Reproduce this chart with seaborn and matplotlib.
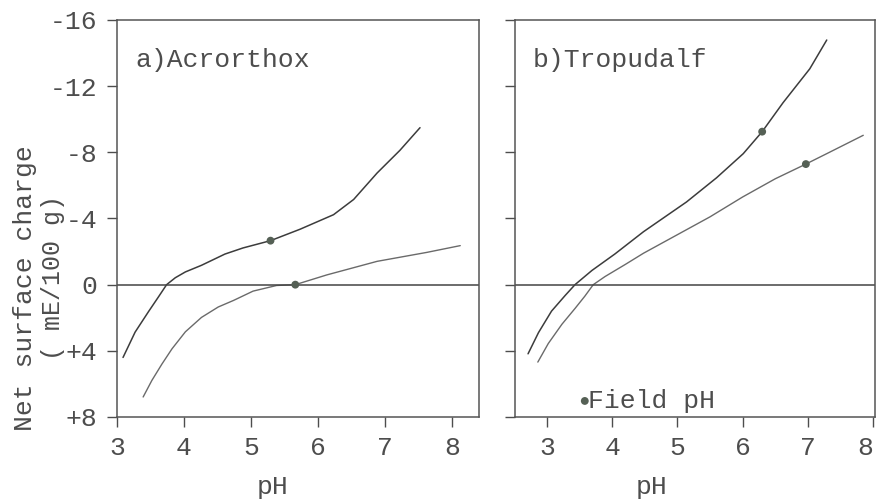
import numpy as np
import matplotlib
matplotlib.use("Agg")
import matplotlib.pyplot as plt
import pandas as pd
import seaborn as sns

# a) Acrorthox, two titration curves (pH vs net surface charge, mE/100 g)
ph_a_upper = [3.09, 3.27, 3.47, 3.62, 3.74, 3.87, 4.02, 4.26, 4.61, 4.88, 5.29, 5.73, 6.23, 6.53, 6.88, 7.22, 7.52]
q_a_upper = [4.4, 2.87, 1.63, 0.73, 0.0, -0.42, -0.77, -1.17, -1.85, -2.22, -2.66, -3.35, -4.23, -5.15, -6.75, -8.12, -9.49]
ph_a_lower = [3.39, 3.52, 3.67, 3.82, 4.02, 4.26, 4.51, 4.74, 5.03, 5.38, 5.66, 6.13, 6.88, 7.62, 8.12]
q_a_lower = [6.79, 5.79, 4.80, 3.88, 2.85, 1.98, 1.35, 0.95, 0.39, 0.05, 0.0, -0.59, -1.41, -1.95, -2.36]

# b) Tropudalf
ph_b_upper = [2.71, 2.87, 3.07, 3.28, 3.43, 3.69, 4.04, 4.48, 5.14, 5.60, 6.01, 6.30, 6.62, 7.03, 7.29]
q_b_upper = [4.18, 2.9, 1.6, 0.65, 0.0, -0.86, -1.85, -3.2, -5.0, -6.46, -7.92, -9.25, -11.0, -13.05, -14.79]
ph_b_lower = [2.86, 3.02, 3.23, 3.43, 3.58, 3.71, 3.89, 4.20, 4.48, 4.99, 5.50, 6.00, 6.50, 6.97, 7.29, 7.85]
q_b_lower = [4.68, 3.56, 2.39, 1.44, 0.70, 0.0, -0.49, -1.22, -1.9, -3.0, -4.1, -5.3, -6.4, -7.29, -7.92, -9.03]

# field pH points
field_a_ph = [5.29, 5.66]
field_a_q = [-2.66, 0.0]
field_b_ph = [6.30, 6.97]
field_b_q = [-9.25, -7.29]
legend_ph = [3.58]
legend_q = [7.03]

y_ticks = [-16, -12, -8, -4, 0, 4, 8]
y_labels = ["-16", "-12", "-8", "-4", "0", "+4", "+8"]
x_ticks = [3, 4, 5, 6, 7, 8]

sns.set_style("ticks")
plt.rcParams["font.family"] = ["Liberation Mono", "DejaVu Sans Mono"]
ink = "#4d4d4d"
plt.rcParams.update({"text.color": ink, "axes.labelcolor": ink,
                     "xtick.color": ink, "ytick.color": ink,
                     "axes.edgecolor": "#555555"})

fig = plt.figure(figsize=(8.78, 5.0), dpi=100)
ax1 = fig.add_axes([117 / 878, 1 - 417 / 500, 362 / 878, 397 / 500])
ax2 = fig.add_axes([515 / 878, 1 - 417 / 500, 360 / 878, 397 / 500])

dark = "#3c3c3c"
light = "#6a6a6a"
fs = 19

panels = [
    (ax1, ph_a_upper, q_a_upper, ph_a_lower, q_a_lower, field_a_ph, field_a_q, (3.0, 8.4), "a)Acrorthox"),
    (ax2, ph_b_upper, q_b_upper, ph_b_lower, q_b_lower, field_b_ph, field_b_q, (2.51, 8.03), "b)Tropudalf"),
]

for ax, xu, yu, xl, yl, fx, fy, xlim, title in panels:
    up = pd.DataFrame({"pH": xu, "q": yu})
    lo = pd.DataFrame({"pH": xl, "q": yl})
    sns.lineplot(data=up, x="pH", y="q", ax=ax, sort=False, color=dark, lw=1.1)
    sns.lineplot(data=lo, x="pH", y="q", ax=ax, sort=False, color=light, lw=1.0)
    sns.scatterplot(x=fx, y=fy, ax=ax, color="#556055", s=32, edgecolor="none", zorder=5)
    ax.axhline(0, color="#444444", lw=1.1)
    ax.set_xlim(*xlim)
    ax.set_ylim(8, -16)
    ax.set_yticks(y_ticks)
    ax.set_xticks(x_ticks)
    ax.set_xticklabels([str(t) for t in x_ticks], fontsize=fs)
    ax.tick_params(axis="both", direction="out", length=7, width=1.0, pad=7)
    ax.text(0.05, 0.9, title, transform=ax.transAxes, fontsize=fs, va="center", ha="left")
    ax.set_ylabel("")
    ax.set_xlabel("pH", fontsize=fs, labelpad=2)
    for s in ax.spines.values():
        s.set_linewidth(1.1)

ax1.set_yticklabels(y_labels, fontsize=fs)
ax2.set_yticklabels([])
ax2.get_xticklabels()[-1].set_horizontalalignment("right")
ax1.xaxis.set_label_coords(0.43, -0.145)
ax2.xaxis.set_label_coords(0.38, -0.145)

sns.scatterplot(x=legend_ph, y=legend_q, ax=ax2, color="#556055", s=32, edgecolor="none", zorder=5)
ax2.text(legend_ph[0] + 0.05, legend_q[0], "Field pH", fontsize=fs, va="center", ha="left")

fig.text(25 / 878, 1 - 288 / 500, "Net surface charge", rotation=90, fontsize=fs,
         ha="center", va="center")
fig.text(53 / 878, 1 - 277 / 500, "( mE/100 g)", rotation=90, fontsize=18,
         ha="center", va="center")

fig.savefig("out.png", dpi=100)
